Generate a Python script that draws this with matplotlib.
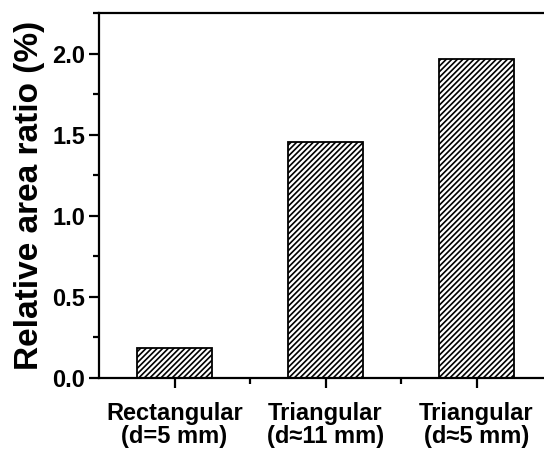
import matplotlib
matplotlib.use("Agg")
import matplotlib.pyplot as plt
from matplotlib.ticker import MultipleLocator, FixedLocator

categories = ["Rectangular\n(d=5 mm)", "Triangular\n(d\u224811 mm)", "Triangular\n(d\u22485 mm)"]
values = [0.183, 1.455, 1.969]
yticks = [0.0, 0.5, 1.0, 1.5, 2.0]

plt.rcParams['font.family'] = ['Liberation Sans', 'DejaVu Sans']
plt.rcParams['font.weight'] = 'bold'
plt.rcParams['hatch.linewidth'] = 1.2

fig = plt.figure(figsize=(5.44, 4.5), dpi=100)
ax = fig.add_axes([99/544, 72/450, 453/544, 365/450])

x = list(range(1, len(values) + 1))
ax.bar(x, values, width=0.5, color='white', edgecolor='black', hatch='//////', linewidth=1.3)

ax.set_xlim(0.5, 3.5)
ax.set_ylim(0, 2.253)
ax.set_xticks(x)
ax.set_xticklabels(categories, fontsize=17, fontweight='bold', linespacing=1.0)
ax.xaxis.set_minor_locator(FixedLocator([1.5, 2.5]))
ax.set_yticks(yticks)
ax.set_yticklabels([f"{v:.1f}" for v in yticks], fontsize=17, fontweight='bold')
ax.yaxis.set_minor_locator(MultipleLocator(0.25))
ax.set_ylabel("Relative area ratio (%)", fontsize=24, fontweight='bold', labelpad=5)

for s in ax.spines.values():
    s.set_linewidth(1.6)
ax.tick_params(which='major', direction='out', length=7, width=1.6)
ax.tick_params(axis='x', which='major', pad=10)
ax.tick_params(axis='y', which='major', pad=3)
ax.tick_params(which='minor', direction='out', length=4, width=1.6)

fig.savefig("out.png", dpi=100)
